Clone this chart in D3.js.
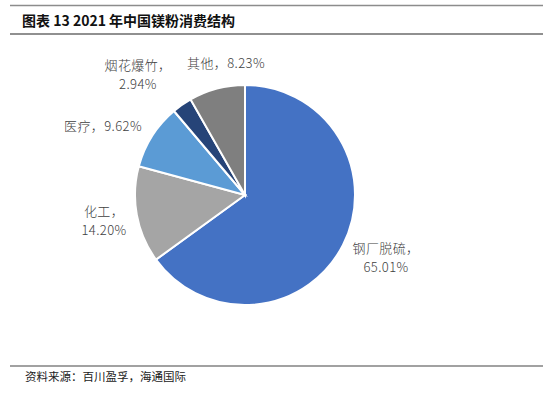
<!DOCTYPE html>
<html>
<head>
<meta charset="utf-8">
<script src="https://cdn.jsdelivr.net/npm/d3@7"></script>
<style>
  body { margin: 0; background: #fff; }
  text { font-family: "Noto Sans CJK SC", "DejaVu Sans", sans-serif; }
</style>
</head>
<body>
<svg id="chart" width="543" height="395" viewBox="0 0 543 395"></svg>
<script>
// data
const categories = ["钢厂脱硫", "化工", "医疗", "烟花爆竹", "其他"]
const shares = [65.01, 14.20, 9.62, 2.94, 8.23]
const sliceColors = ["#4472C4", "#A5A5A5", "#5B9BD5", "#264478", "#7F7F7F"]
// label lines: first line, second line (null = one line)
const labelLines = [
    ["钢厂脱硫，", "65.01%"],
    ["化工，", "14.20%"],
    ["医疗，9.62%", null],
    ["烟花爆竹，", "2.94%"],
    ["其他，8.23%", null]
]
const labelPos = [[386, 249], [104, 212], [103, 127], [138, 66], [226, 64]]

const svg = d3.select("#chart")
const width = parseInt(svg.attr("viewBox").split(' ')[2])

// frame lines
svg.append("line").attr("x1", 10).attr("x2", width).attr("y1", 5.5).attr("y2", 5.5)
    .attr("stroke", "#8c8c8c").attr("stroke-width", 1.5)
svg.append("line").attr("x1", 10).attr("x2", width).attr("y1", 34).attr("y2", 34)
    .attr("stroke", "#222").attr("stroke-width", 1.2)
svg.append("line").attr("x1", 10).attr("x2", width).attr("y1", 366).attr("y2", 366)
    .attr("stroke", "#444").attr("stroke-width", 1.2)

svg.append("text").attr("x", 22).attr("y", 26)
    .style("font-size", "14px").style("font-weight", "bold").attr("fill", "#111")
    .text("图表 13 2021 年中国镁粉消费结构")

svg.append("text").attr("x", 25).attr("y", 381)
    .style("font-size", "11.5px").attr("fill", "#222")
    .text("资料来源：百川盈孚，海通国际")

const cx = 245, cy = 195, radius = 110

const pie = d3.pie().sort(null).value(d => d)
const arc = d3.arc().innerRadius(0).outerRadius(radius)

const main_group = svg.append("g").attr("transform", `translate(${cx},${cy})`)

main_group.selectAll("path")
    .data(pie(shares))
    .enter()
    .append("path")
    .attr("d", arc)
    .attr("fill", (d, i) => sliceColors[i])
    .attr("stroke", "#fff")
    .attr("stroke-width", 2)

const labels = svg.append("g")
labelLines.forEach((lines, i) => {
    const t = labels.append("text")
        .attr("text-anchor", "middle")
        .style("font-size", "13px")
        .style("font-weight", 300)
        .style("letter-spacing", "0.4px")
        .attr("fill", "#404040")
    t.append("tspan").attr("x", labelPos[i][0]).attr("y", labelPos[i][1] + 4).text(lines[0])
    if (lines[1]) {
        t.append("tspan").attr("x", labelPos[i][0]).attr("y", labelPos[i][1] + 23).text(lines[1])
    }
})
</script>
</body>
</html>
